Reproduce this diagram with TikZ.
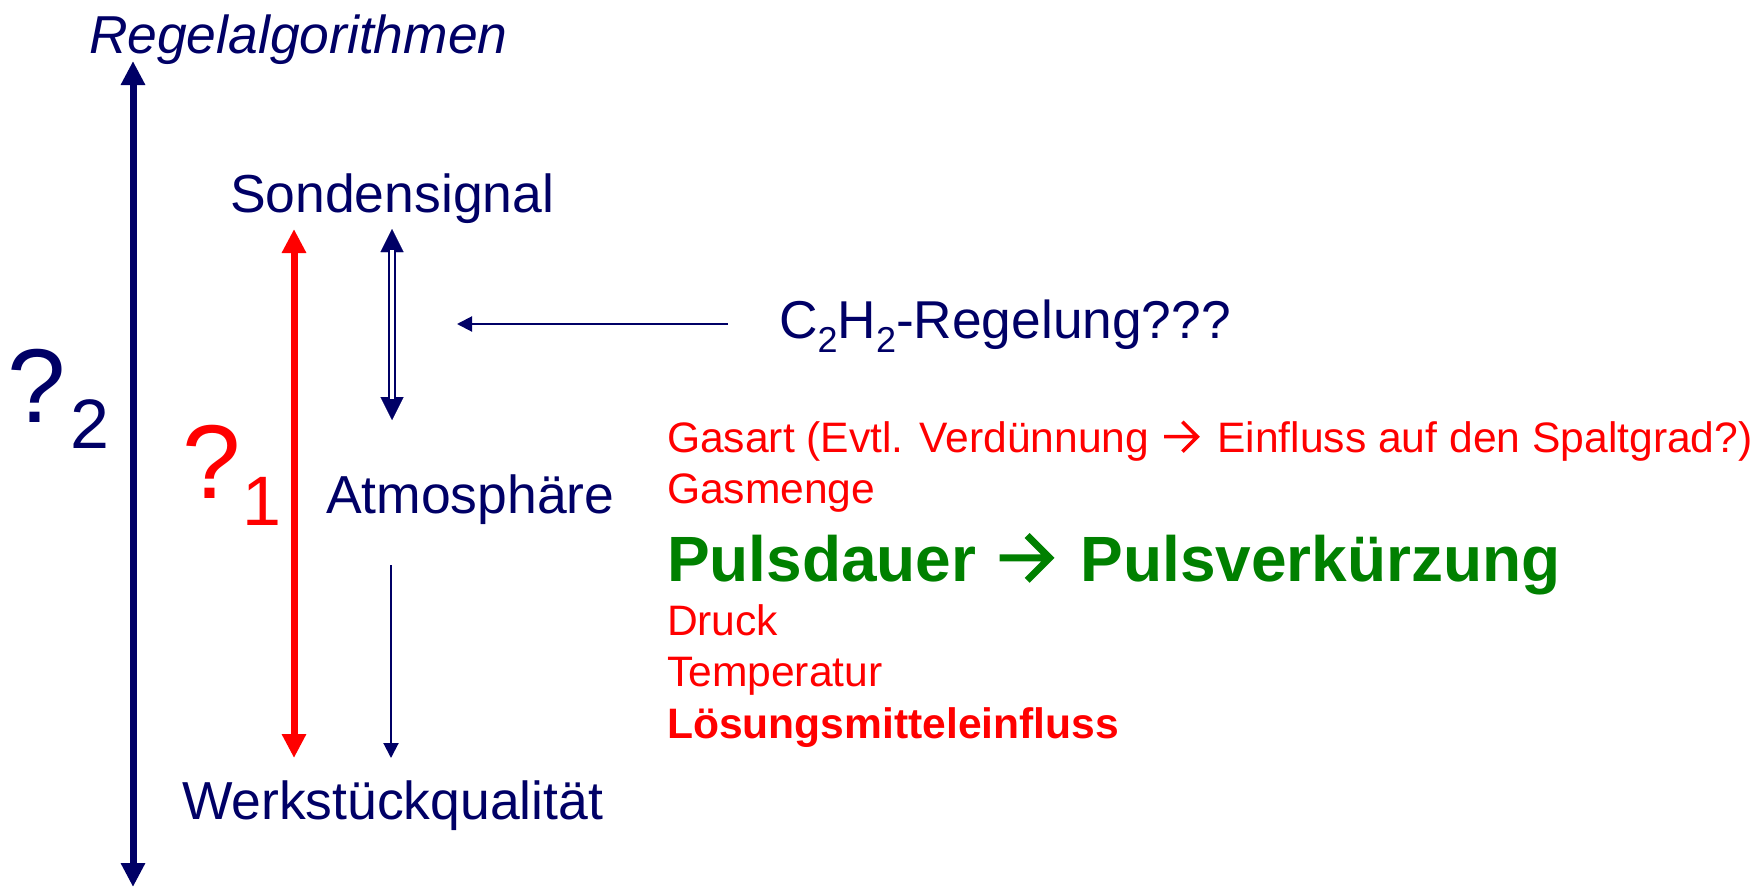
\documentclass[tikz,border=0pt]{standalone}
\usepackage{fontspec}
\setmainfont{Liberation Sans}
\usetikzlibrary{arrows.meta}

\definecolor{dkblue}{RGB}{0,0,102}
\definecolor{grn}{RGB}{0,128,0}

% chevron arrow used inside running text: #1 stroke width, #2 colour
\newcommand\chevarrow[2]{\hspace{0.03em}\tikz[baseline=0pt]{\draw[#2,line width=#1,line join=miter,line cap=butt]
  (0,0.36em) -- (0.78em,0.36em) (0.43em,0.71em) -- (0.78em,0.36em) -- (0.43em,0.01em);}\hspace{0.15em}}

\begin{document}
\begin{tikzpicture}[x=1pt,y=-1pt,
  every node/.style={inner sep=0pt,outer sep=0pt,anchor=base west},
  lbl/.style={text=dkblue,font=\fontsize{53.5}{60}\selectfont},
  note/.style={text=red,font=\fontsize{42.6}{48}\selectfont},
  thick arrow/.style={line width=7pt,{Triangle[length=24pt,width=23pt]}-{Triangle[length=24pt,width=23pt]}},
  thin arrow/.style={dkblue,line width=2pt,-{Triangle[length=15pt,width=15pt]}}]
\useasboundingbox (0,0) rectangle (1762,887);

% labels
\node[lbl,font=\itshape\fontsize{53.4}{60}\selectfont] (algo) at (89,53) {Regelalgorithmen};
\node[lbl] (sonde) at (230,212) {Sondensignal};
\node[lbl] (atmo) at (326,513) {Atmosphäre};
\node[lbl] (werk) at (182,819) {Werkstückqualität};
\node[lbl,font=\fontsize{53.3}{60}\selectfont] (cregel) at (779,338)
  {C\raisebox{-0.27em}{\fontsize{36}{40}\selectfont 2}H\raisebox{-0.27em}{\fontsize{36}{40}\selectfont 2}-Regelung???};

\node[text=dkblue,font=\fontsize{105}{110}\selectfont] (q2) at (8,422)
  {?\hspace{4pt}\raisebox{-26pt}{\fontsize{70}{80}\selectfont 2}};
\node[text=red,font=\fontsize{105}{110}\selectfont] (q1) at (182,498)
  {?\hspace{2pt}\raisebox{-27pt}{\fontsize{70}{80}\selectfont 1}};

% influencing factors
\node[note] (gasart) at (667,452) {Gasart (Evtl. Verdünnung \chevarrow{3.5pt}{red} Einfluss auf den Spaltgrad?)};
\node[note] (gasmenge) at (667,503) {Gasmenge};
\node[text=grn,font=\bfseries\fontsize{64}{70}\selectfont] (puls) at (667,581)
  {Pulsdauer \chevarrow{7pt}{grn} Pulsverkürzung};
\node[note] (druck) at (667,635) {Druck};
\node[note] (temp) at (667,686) {Temperatur};
\node[note,font=\bfseries\fontsize{42.6}{48}\selectfont] (loes) at (667,738) {Lösungsmitteleinfluss};

% arrow end points
\coordinate (bigtop) at (133,61);
\coordinate (bigbot) at (133,887);
\coordinate (redtop) at (294,229);
\coordinate (redbot) at (294,758);
\coordinate (dtop) at (392,229);
\coordinate (dbot) at (392,420);
\coordinate (atop) at (391,565);
\coordinate (abot) at (391,758);
\coordinate (cstart) at (728,324);
\coordinate (cend) at (457,324);

% arrows
\draw[dkblue,thick arrow] (bigbot) -- (bigtop);
\draw[red,thick arrow] (redbot) -- (redtop);
\draw[dkblue,line width=0.01pt,{Triangle[length=23pt,width=23pt]}-{Triangle[length=23pt,width=23pt]}] (dtop) -- (dbot);
\draw[dkblue,line width=2pt,double=white,double distance=3.5pt,shorten <=21pt,shorten >=21pt] (dtop) -- (dbot);
\draw[thin arrow] (atop) -- (abot);
\draw[thin arrow] (cstart) -- (cend);
\end{tikzpicture}
\end{document}
